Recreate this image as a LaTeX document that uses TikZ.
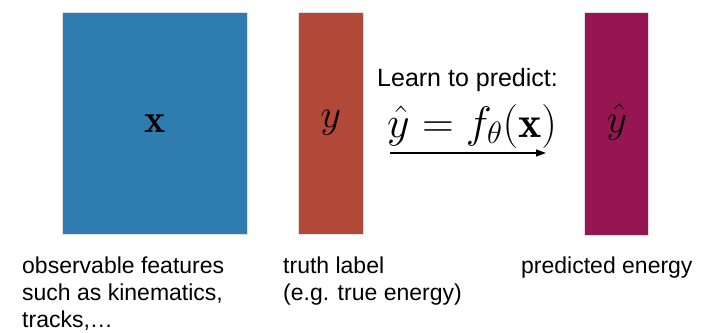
\RequirePackage{fix-cm}
\documentclass[tikz,border=0pt]{standalone}
\usepackage{amsmath}
\usepackage{fontspec}
\newfontfamily\labelfont{Liberation Sans}
\usetikzlibrary{arrows.meta}
\definecolor{boxblue}{RGB}{47,125,176}
\definecolor{boxred}{RGB}{178,72,56}
\definecolor{boxmag}{RGB}{150,22,84}
\tikzset{
  bar/.style={draw=black!12, line width=0.6pt, inner sep=0pt, anchor=north west},
  mathlbl/.style={inner sep=0pt, anchor=base, font=\fontsize{40}{48}\selectfont},
  caption/.style={inner sep=0pt, anchor=base west, align=left, font=\labelfont\fontsize{23}{27}\selectfont},
}
\begin{document}
\begin{tikzpicture}[x=1pt,y=-1pt]
\useasboundingbox (0,0) rectangle (704,332);
% bars
\node[bar, fill=boxblue, minimum width=185pt, minimum height=222pt] (xbox) at (62,12) {};
\node[bar, fill=boxred, minimum width=65pt, minimum height=222pt] (ybox) at (298,12) {};
\node[bar, fill=boxmag, minimum width=64pt, minimum height=223pt] (yhbox) at (584,12) {};
% symbols
\node[mathlbl] (xs) at (155,132) {$\mathbf{x}$};
\node[mathlbl] (ys) at (331,127) {$y$};
\node[mathlbl] (yhs) at (617,132) {$\hat{y}$};
% learn
\node[inner sep=0pt, anchor=base west, font=\labelfont\fontsize{25}{30}\selectfont] (learn) at (377,86) {Learn to predict:};
\node[mathlbl, anchor=base west, font=\fontsize{44}{52}\selectfont] (formula) at (387,137) {$\hat{y} = f_\theta(\mathbf{x})$};
\coordinate (as) at (390,153);
\coordinate (ae) at (546,153);
\draw[line width=1.4pt, -{Triangle[length=10pt,width=7pt]}] (as) -- (ae);
% captions (base = baseline of last line)
\node[caption] (cx) at (22,327) {observable features\\such as kinematics,\\tracks,\ldots};
\node[caption] (cy) at (283,300) {truth label\\(e.g. true energy)};
\node[caption] (cyh) at (521,273) {predicted energy};
\end{tikzpicture}
\end{document}
